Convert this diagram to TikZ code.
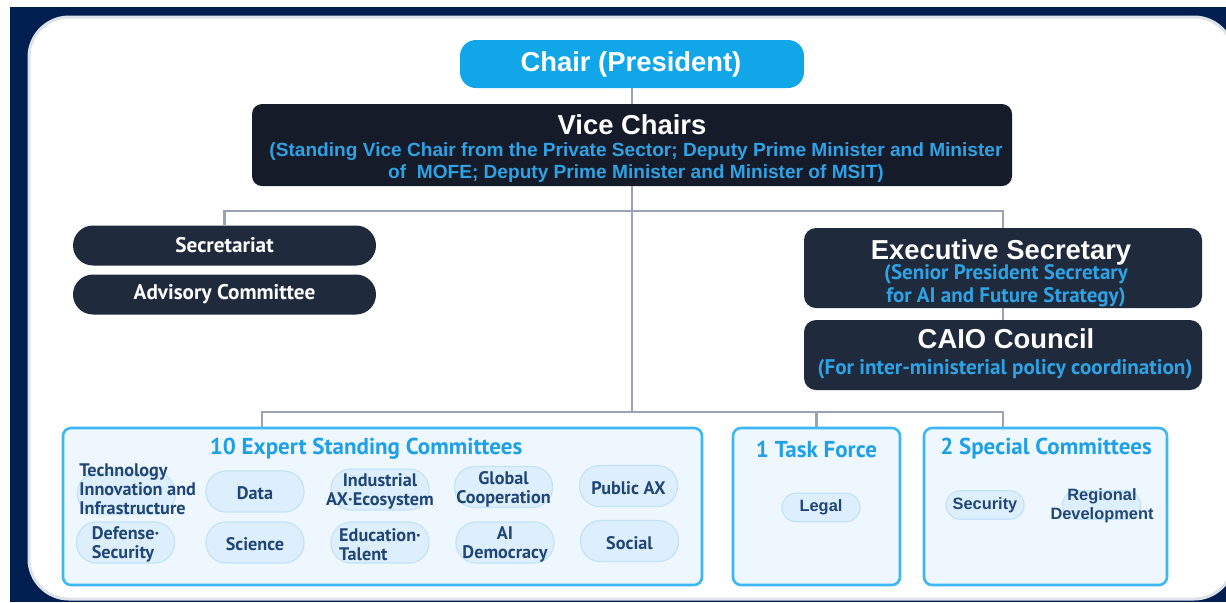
\documentclass[tikz,border=0pt]{standalone}
\usepackage{fontspec}
\setmainfont{Liberation Sans}
\newfontfamily\ptsans{PT Sans}
\definecolor{framenavy}{HTML}{001E50}
\definecolor{panelline}{HTML}{DDE2EA}
\definecolor{chairblue}{HTML}{10A6E8}
\definecolor{vicedark}{HTML}{151B29}
\definecolor{sidedark}{HTML}{1F2A3C}
\definecolor{subblue}{HTML}{2FA2E4}
\definecolor{linkgray}{HTML}{98A3B5}
\definecolor{groupline}{HTML}{3DB8F5}
\definecolor{groupfill}{HTML}{EEF7FE}
\definecolor{grouptitle}{HTML}{1EA0E6}
\definecolor{pillfill}{HTML}{DDEFFC}
\definecolor{pillline}{HTML}{C3E3F9}
\definecolor{pillink}{HTML}{1F4676}
\tikzset{
  link/.style={draw=linkgray, line width=1.3pt},
  chairbox/.style={fill=chairblue, rounded corners=8pt, minimum width=172pt, minimum height=24pt, inner sep=0pt},
  vicebox/.style={fill=vicedark, rounded corners=5pt, minimum width=380pt, minimum height=41pt, inner sep=0pt},
  sidebox/.style={fill=sidedark, rounded corners=6pt, minimum width=199pt, inner sep=0pt},
  barbox/.style={fill=sidedark, rounded corners=10pt, minimum width=151.5pt, minimum height=20pt, inner sep=0pt,
    text=white, font=\ptsans\bfseries\fontsize{10.6}{12}\selectfont},
  groupbox/.style={draw=groupline, line width=1.3pt, fill=groupfill, rounded corners=4pt, minimum height=78.5pt, inner sep=0pt},
  pill/.style={draw=pillline, fill=pillfill, line width=0.6pt, rounded corners=10pt, minimum width=49pt, minimum height=20.5pt, inner sep=0pt},
  smallpill/.style={pill, rounded corners=7pt, minimum width=39pt, minimum height=14.25pt},
  headtext/.style={text=white, font=\bfseries\fontsize{13.7}{16}\selectfont, inner sep=0pt},
  subtext/.style={text=subblue, align=center, inner sep=0pt},
  titletext/.style={text=grouptitle, font=\ptsans\bfseries\fontsize{11.5}{13}\selectfont, inner sep=0pt},
  pilltext/.style={text=pillink, font=\ptsans\bfseries\fontsize{9.1}{9.6}\selectfont, inner sep=0pt},
  smalltext/.style={text=pillink, font=\bfseries\fontsize{8.2}{9.5}\selectfont, align=center, inner sep=0pt}
}
\begin{document}
\begin{tikzpicture}[x=0.5pt,y=-0.5pt]
    \useasboundingbox (0,0) rectangle (1226,602);
    % frame and panel
    \fill[framenavy] (10,7) rectangle (1226,602);
    \draw[panelline, line width=1.5pt, fill=white, rounded corners=20pt] (29,17) rectangle (1234,599);

    % top of the chart
    \node[chairbox] (chair) at (632,64) {};
    \node[headtext] (chairtitle) at (631,64) {Chair (President)};
    \node[vicebox] (vice) at (632,145) {};
    \node[headtext] (vicetitle) at (632,125) {Vice Chairs};
    \node[subtext, font=\bfseries\fontsize{9.55}{11}\selectfont] (vicesub) at (636,163)
        {(Standing Vice Chair from the Private Sector; Deputy Prime Minister and Minister\\
         of \ MOFE; Deputy Prime Minister and Minister of MSIT)};

    % left side
    \node[barbox] (secretariat) at (224.5,245.5) {Secretariat};
    \node[barbox] (advisory) at (224.5,294.5) {Advisory Committee};

    % right side
    \node[sidebox, minimum height=40pt] (exec) at (1003,268) {};
    \node[headtext] (exectitle) at (1001,252) {Executive Secretary};
    \node[subtext, font=\ptsans\bfseries\fontsize{10.5}{11.5}\selectfont] (execsub) at (1006,286)
        {(Senior President Secretary\\for AI and Future Strategy)};
    \node[sidebox, minimum height=35pt] (caio) at (1003,355) {};
    \node[headtext] (caiotitle) at (1006,339) {CAIO Council};
    \node[subtext, font=\ptsans\bfseries\fontsize{10.6}{12}\selectfont] (caiosub) at (1005,369)
        {(For inter-ministerial policy coordination)};

    % bottom groups
    \node[groupbox, minimum width=319.5pt] (expert) at (382.5,506.5) {};
    \node[groupbox, minimum width=83.5pt] (task) at (816.5,506.5) {};
    \node[groupbox, minimum width=121.5pt] (special) at (1045.5,506.5) {};
    \node[titletext] (experttitle) at (366,449) {10 Expert Standing Committees};
    \node[titletext] (tasktitle) at (816.5,449) {1 Task Force};
    \node[titletext] (specialtitle) at (1046,449) {2 Special Committees};

    \foreach \px/\py/\pname/\ptext/\palign in {
        126.5/493.5/tech//left, 255/491.5/data/Data/center,
        380/489.5/industrial/{Industrial\\AX·Ecosystem}/center,
        503.5/487/global/{Global\\Cooperation}/center, 628.5/486/public/Public AX/center,
        125.5/542.5/defense/{Defense·\\Security}/left, 255/542.5/science/Science/center,
        380/542.5/education/{Education·\\Talent}/left,
        505/542.5/democracy/{AI\\Democracy}/center, 629.5/541/social/Social/center}{
        \node[pill] (\pname) at (\px,\py) {};
        \node[pilltext, align=\palign] at ([yshift=-1pt]\pname) {\ptext};
        };
    \node[pilltext, align=left, anchor=west] (techtext) at (79,489)
        {Technology\\Innovation and\\Infrastructure};

    \node[smallpill] (legal) at (821,507.5) {};
    \node[smalltext] at (legal) {Legal};
    \node[smallpill] (security) at (985,505) {};
    \node[smalltext] at (security) {Security};
    \node[smallpill] (regional) at (1101.5,505) {};
    \node[smalltext] at (1102,505.5) {Regional\\Development};

    % connectors
    \coordinate (bustop) at (632,211);
    \coordinate (buslow) at (262,412);
    \draw[link] (chair.south) -- (vice.north);
    \draw[link] (vice.south) -- (vice.south |- buslow);
    \draw[link] (secretariat.north) |- (bustop) -| (exec.north);
    \draw[link] (exec.south) -- (caio.north);
    \draw[link] (buslow |- expert.north) |- (caio.south |- buslow) -- (caio.south |- special.north);
    \draw[link] (task.north) -- (task.north |- buslow);
\end{tikzpicture}
\end{document}
